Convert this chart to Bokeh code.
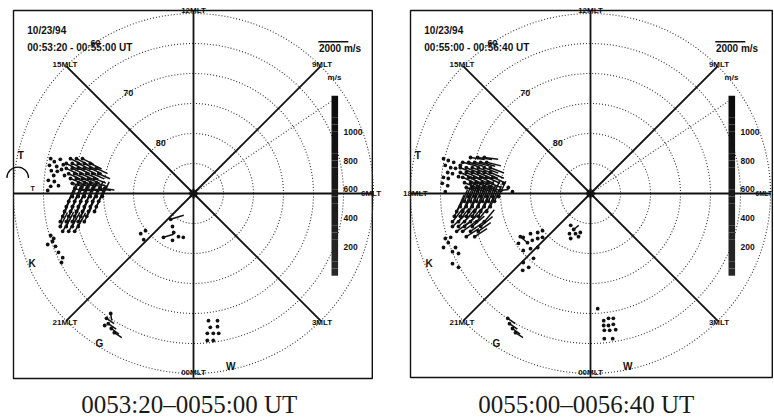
import numpy as np
from bokeh.plotting import figure
from bokeh.models import Range1d
from bokeh.core.properties import value
from bokeh.embed import file_html
from bokeh.resources import INLINE

# ---------------- data ----------------
DATE = "10/23/94"
INTERVALS = ["00:53:20 - 00:55:00 UT", "00:55:00 - 00:56:40 UT"]
CAPTIONS = ["0053:20\u20130055:00 UT", "0055:00\u20130056:40 UT"]
CIRCLE_LATS = [85, 80, 75, 70, 65, 60]
LAT_LABELS = [80, 70, 60]
LAT_LABEL_MLT = 14.2
MLT_HOURS = [0, 3, 6, 9, 12, 15, 18, 21]
MLT_NAMES = ["00MLT", "3MLT", "6MLT", "9MLT", "12MLT", "15MLT", "18MLT", "21MLT"]
GUIDE_MLT = 8.25
GUIDE_LAT = 62.4
CBAR_TICKS = [200, 400, 600, 800, 1000]
CBAR_MAX = 1250
REF_SPEED = 2000
STATION_NAMES = ["T", "K", "G", "W"]
STATION_X = [-28.8, -26.9, -15.7, 6.2]
STATION_Y = [6.3, -11.6, -25.0, -28.9]

# radar cells (grid x/y in degrees of colatitude from the pole, +x toward 06 MLT,
# +y toward 12 MLT), speed in m/s, direction in degrees from +x
L_X = [
    -23.8, -23.2, -24.0, -22.8, -23.7, -22.7, -23.3, -24.2, -23.2, -23.8, -24.3, -22.2, -21.7, -22.0, -21.5, -22.5,
    -20.5, -19.5, -18.5,
    -21.2, -20.2, -19.2, -18.2, -17.2,
    -21.2, -20.2, -19.2, -18.2, -17.2, -16.2,
    -20.8, -19.8, -18.8, -17.8, -16.8, -15.8,
    -20.5, -19.5, -18.5, -17.5, -16.5,
    -20.2, -19.2, -18.2, -17.2, -16.2,
    -19.8, -18.8, -17.8, -16.8, -15.5, -14.8,
    -20.2, -19.2, -18.2, -17.2, -16.2, -15.2,
    -20.8, -19.8, -18.8, -17.8, -16.8, -15.8,
    -21.2, -20.2, -19.2, -18.2, -17.2, -16.2,
    -21.5, -20.5, -19.5, -18.5, -17.5, -16.5,
    -21.8, -20.8, -19.8, -18.8, -17.8,
    -22.2, -21.2, -20.2, -19.2, -18.2,
    -22.2, -21.2, -20.2, -19.2,
    -21.8, -20.8, -19.8,
    -23.8, -23.3, -24.3, -23.0, -22.5, -21.8, -22.0, -23.5,
    -14.5, -14.2, -13.7, -13.2, -14.8, -13.8,
    2.5, 4.0, 2.8, 4.0, 2.3, 3.3, 4.2, 2.3, 3.3,
    -8.8, -8.0, -8.3, -3.5, -3.3, -2.5, -1.7, -3.5, -5.0, -3.8,
]
L_Y = [
    5.8, 5.3, 4.7, 4.5, 3.8, 3.7, 3.0, 2.2, 2.0, 1.2, 0.5, 5.7, 4.8, 4.0, 3.0, 1.3,
    5.8, 5.8, 5.8,
    5.0, 5.0, 5.0, 5.0, 5.0,
    4.2, 4.2, 4.2, 4.2, 4.2, 4.2,
    3.3, 3.3, 3.3, 3.3, 3.3, 3.3,
    2.5, 2.5, 2.5, 2.5, 2.5,
    1.7, 1.7, 1.7, 1.7, 1.7,
    0.8, 0.8, 0.8, 0.8, 0.8, 0.8,
    -0.5, -0.5, -0.5, -0.5, -0.5, -0.5,
    -1.3, -1.3, -1.3, -1.3, -1.3, -1.3,
    -2.2, -2.2, -2.2, -2.2, -2.2, -2.2,
    -3.0, -3.0, -3.0, -3.0, -3.0, -3.0,
    -3.8, -3.8, -3.8, -3.8, -3.8,
    -4.7, -4.7, -4.7, -4.7, -4.7,
    -5.5, -5.5, -5.5, -5.5,
    -6.3, -6.3, -6.3,
    -7.0, -7.5, -8.5, -8.8, -9.8, -10.7, -11.5, -8.0,
    -20.8, -21.7, -22.5, -23.2, -22.0, -20.0,
    -21.2, -21.2, -22.3, -22.2, -23.3, -23.3, -23.3, -24.5, -24.5,
    -6.7, -6.2, -7.7, -5.5, -6.5, -7.2, -7.3, -7.8, -7.3, -4.3,
]
L_SPD = [
    0, 0, 0, 0, 0, 0, 0, 0, 0, 0, 0, 0, 0, 0, 0, 0,
    850, 880, 840,
    860, 870, 850, 860, 840,
    870, 880, 860, 870, 850, 830,
    860, 870, 880, 860, 840, 820,
    840, 850, 860, 840, 820,
    820, 830, 840, 820, 800,
    780, 790, 800, 770, 700, 650,
    1150, 1160, 1170, 1150, 1120, 1080,
    1180, 1190, 1200, 1180, 1150, 1100,
    1200, 1210, 1200, 1190, 1160, 1120,
    1180, 1200, 1190, 1170, 1140, 1100,
    1150, 1170, 1160, 1140, 1100,
    1120, 1140, 1130, 1100, 1060,
    1050, 1070, 1060, 1030,
    950, 980, 960,
    0, 0, 0, 0, 0, 0, 0, 0,
    620, 640, 630, 600, 0, 470,
    0, 0, 0, 0, 0, 0, 0, 0, 0,
    0, 0, 0, 0, 0, 0, 0, 0, 700, 910,
]
L_DIR = [
    0, 0, 0, 0, 0, 0, 0, 0, 0, 0, 0, 0, 0, 0, 0, 0,
    -27, -28, -27,
    -27, -27, -26, -27, -26,
    -26, -26, -25, -26, -25, -25,
    -25, -25, -24, -25, -24, -24,
    -23, -23, -22, -23, -22,
    -18, -18, -17, -18, -17,
    -12, -12, -11, -12, -10, -8,
    66, 66, 67, 66, 66, 65,
    67, 67, 67, 67, 66, 66,
    67, 67, 68, 67, 67, 66,
    67, 67, 67, 67, 66, 66,
    66, 66, 66, 65, 65,
    65, 65, 64, 64, 63,
    63, 63, 62, 62,
    60, 60, 59,
    0, 0, 0, 0, 0, 0, 0, 0,
    -35, -35, -36, -34, 0, -82,
    0, 0, 0, 0, 0, 0, 0, 0, 0,
    0, 0, 0, 0, 0, 0, 0, 0, 17, 17,
]

R_X = [
    -24.5, -23.7, -22.8, -24.2, -23.3, -22.5, -23.8, -23.0, -24.5, -23.7, -24.7, -23.8, -24.2, -22.0, -21.7,
    -20.0, -18.8, -17.7,
    -21.3, -20.3, -19.3, -18.3, -17.3,
    -21.7, -20.7, -19.7, -18.7, -17.7, -16.7,
    -21.7, -20.7, -19.7, -18.7, -17.7, -16.7,
    -21.3, -20.3, -19.3, -18.3, -17.3, -16.3,
    -21.0, -20.0, -19.0, -18.0, -17.0,
    -20.7, -19.7, -18.7, -17.7, -16.7,
    -14.5, -13.7, -15.0, -13.0,
    -20.3, -19.3, -18.3, -17.3, -16.3, -15.3,
    -21.0, -20.0, -19.0, -18.0, -17.0, -16.0,
    -21.7, -20.7, -19.7, -18.7, -17.7, -16.7,
    -22.3, -21.3, -20.3, -19.3, -18.3, -17.3,
    -22.7, -21.7, -20.7, -19.7, -18.7,
    -23.0, -22.0, -21.0, -20.0, -19.0, -17.7,
    -23.0, -22.0, -21.0, -19.7, -18.3,
    -22.3, -21.3, -20.0, -18.7,
    -20.7, -19.3,
    -24.2, -23.3, -23.7, -24.5, -22.5, -23.0, -22.0, -23.0, -22.0,
    -11.2, -10.0, -8.8, -8.0, -10.5, -9.7, -8.8, -8.0, -11.2, -10.0, -8.8, -11.2, -10.3, -11.3, -9.5, -12.0, -11.7,
    -3.3, -2.8, -3.5, -2.5, -1.7, -3.3, -2.0,
    -13.8, -13.5, -13.0, -12.5,
    2.2, 3.0, 3.8, 2.2, 3.0, 3.8, 2.3, 3.2, 4.2, 2.3, 3.7, 1.2,
]
R_Y = [
    5.8, 5.5, 5.2, 4.7, 4.3, 4.2, 3.5, 3.3, 2.7, 2.5, 1.7, 1.3, 0.3, 2.8, 4.7,
    6.0, 6.0, 6.0,
    5.2, 5.2, 5.2, 5.2, 5.2,
    4.3, 4.3, 4.3, 4.3, 4.3, 4.3,
    3.5, 3.5, 3.5, 3.5, 3.5, 3.5,
    2.7, 2.7, 2.7, 2.7, 2.7, 2.7,
    1.8, 1.8, 1.8, 1.8, 1.8,
    1.0, 1.0, 1.0, 1.0, 1.0,
    1.7, 1.0, 0.5, 0.3,
    -0.5, -0.5, -0.5, -0.5, -0.5, -0.5,
    -1.3, -1.3, -1.3, -1.3, -1.3, -1.3,
    -2.2, -2.2, -2.2, -2.2, -2.2, -2.2,
    -3.0, -3.0, -3.0, -3.0, -3.0, -3.0,
    -3.8, -3.8, -3.8, -3.8, -3.8,
    -4.7, -4.7, -4.7, -4.7, -4.7, -4.7,
    -5.5, -5.5, -5.5, -5.5, -5.5,
    -6.3, -6.3, -6.3, -6.3,
    -7.2, -7.2,
    -7.5, -7.3, -8.2, -9.0, -9.0, -9.7, -10.0, -11.7, -12.3,
    -7.3, -6.7, -6.5, -6.2, -8.2, -7.8, -7.5, -7.3, -9.5, -9.2, -9.0, -11.5, -12.3, -12.8, -10.8, -8.3, -7.2,
    -5.3, -6.0, -6.7, -6.7, -6.5, -7.5, -7.2,
    -20.8, -21.7, -22.5, -23.2,
    -21.2, -20.8, -20.8, -22.0, -22.0, -21.8, -22.8, -22.8, -22.7, -24.2, -24.2, -19.2,
]
R_SPD = [
    0, 0, 0, 0, 0, 0, 0, 0, 0, 0, 0, 0, 0, 0, 0,
    950, 960, 930,
    1000, 1010, 990, 1000, 980,
    1020, 1030, 1020, 1010, 1000, 980,
    1030, 1040, 1030, 1020, 1000, 980,
    1000, 1010, 1000, 990, 970, 950,
    950, 960, 950, 930, 900,
    900, 910, 900, 880, 850,
    0, 0, 540, 0,
    1200, 1210, 1200, 1190, 1160, 1120,
    1230, 1240, 1230, 1210, 1180, 1140,
    1240, 1250, 1240, 1220, 1190, 1150,
    1220, 1230, 1220, 1200, 1170, 1130,
    1180, 1190, 1180, 1160, 1120,
    1120, 1130, 1120, 1100, 1080, 1040,
    1080, 1090, 1080, 1060, 1030,
    1050, 1060, 1040, 1010,
    1000, 980,
    0, 0, 0, 0, 0, 0, 0, 0, 0,
    0, 0, 0, 0, 0, 0, 0, 0, 0, 0, 0, 0, 0, 0, 0, 0, 520,
    0, 430, 0, 0, 0, 0, 0,
    620, 640, 630, 600,
    0, 0, 0, 0, 0, 0, 0, 0, 0, 0, 0, 0,
]
R_DIR = [
    0, 0, 0, 0, 0, 0, 0, 0, 0, 0, 0, 0, 0, 0, 0,
    -8, -8, -7,
    -15, -15, -14, -15, -14,
    -22, -22, -21, -22, -21, -21,
    -24, -24, -23, -24, -23, -23,
    -25, -25, -24, -25, -24, -24,
    -22, -22, -21, -22, -21,
    -18, -18, -17, -18, -17,
    0, 0, 7, 0,
    66, 66, 67, 66, 66, 65,
    67, 67, 67, 67, 66, 66,
    67, 67, 68, 67, 67, 66,
    66, 66, 66, 66, 65, 65,
    62, 62, 62, 61, 61,
    52, 52, 51, 51, 50, 50,
    42, 42, 41, 41, 40,
    36, 36, 35, 35,
    33, 33,
    0, 0, 0, 0, 0, 0, 0, 0, 0,
    0, 0, 0, 0, 0, 0, 0, 0, 0, 0, 0, 0, 0, 0, 0, 0, -40,
    0, 39, 0, 0, 0, 0, 0,
    -35, -35, -36, -34,
    0, 0, 0, 0, 0, 0, 0, 0, 0, 0, 0, 0,
]

for arrs in ((L_X, L_Y, L_SPD, L_DIR), (R_X, R_Y, R_SPD, R_DIR)):
    n = len(arrs[0])
    assert all(len(a) == n for a in arrs), [len(a) for a in arrs]

PANELS = [(L_X, L_Y, L_SPD, L_DIR), (R_X, R_Y, R_SPD, R_DIR)]

# ---------------- layout (degrees, 6 px per degree) ----------------
PX = 6.0
W, H = 774, 419
X0 = -193 / PX
Y1 = 193 / PX
OFFSETS = [0.0, 397 / PX]
FRAME_R = [29.8, 30.3]
FRAME_B = [-30.83, -30.67]
R_OUT = 30.0
REF_LEN = 5.0          # the 2000 m/s arrow is 5 degrees long
DEG_PER_MS = REF_LEN / REF_SPEED
CB_LEFT, CB_RIGHT = 23.0, 24.1
CB_BOTTOM, CB_HEIGHT = -13.7, 30.0

INK = "#111111"
SANS = value("Liberation Sans")
SERIF = value("Liberation Serif")

p = figure(width=W, height=H, output_backend="svg", toolbar_location=None,
           x_range=Range1d(X0, X0 + W / PX), y_range=Range1d(Y1 - H / PX, Y1),
           min_border=0, outline_line_color=None, tools="")
p.axis.visible = False
p.grid.visible = False
p.background_fill_color = "white"
p.border_fill_color = "white"


def mlt_angle(h):
    return np.deg2rad((np.asarray(h, dtype=float) - 6.0) * 15.0)


def text(xs, ys, txt, size, align="center", baseline="middle", font=SANS, style="bold", color=INK):
    p.text(x=list(xs), y=list(ys), text=list(txt), text_font=font, text_font_size=size,
           text_font_style=style, text_align=align, text_baseline=baseline, text_color=color)


for k, off in enumerate(OFFSETS):
    # frame
    p.quad(left=[off - 30.0], right=[off + FRAME_R[k]], bottom=[FRAME_B[k]], top=[30.5],
           fill_color=None, line_color=INK, line_width=1.4)

    # latitude circles
    radii = [90 - lat for lat in CIRCLE_LATS]
    p.circle(x=[off] * len(radii), y=[0] * len(radii), radius=radii, fill_color=None,
             line_color="#333333", line_dash="1 2", line_width=1.1)

    # dotted guide line
    ga = mlt_angle(GUIDE_MLT)
    gr = 90 - GUIDE_LAT
    p.line(x=[off, off + gr * np.cos(ga)], y=[0, gr * np.sin(ga)], line_color="#333333",
           line_dash="1 2", line_width=1.1)

    # MLT meridians
    ang = mlt_angle(MLT_HOURS)
    rend = np.array([30.7 if h == 0 else 30.5 if h == 12 else R_OUT for h in MLT_HOURS])
    p.segment(x0=[off] * len(ang), y0=[0] * len(ang), x1=off + rend * np.cos(ang),
              y1=rend * np.sin(ang), line_color=INK, line_width=1.8)

    # MLT labels (06 MLT of the right panel is handled below, it sits at the page edge)
    rl = np.array([29.8 if h == 0 else 30.5 if h == 12 else 29.6 if h == 6 else 29.2 if h == 18 else 30.3
                   for h in MLT_HOURS])
    keep = [i for i, h in enumerate(MLT_HOURS)
            if not (k == 0 and h == 18) and not (k == 1 and h == 6)]
    text([off + rl[i] * np.cos(ang[i]) for i in keep], [rl[i] * np.sin(ang[i]) for i in keep],
         [MLT_NAMES[i] for i in keep], "8px")
    if k == 1:
        i6 = MLT_HOURS.index(6)
        text([off + 30.25], [0.0], [MLT_NAMES[i6]], "6.5px", align="right")

    # latitude labels
    la = mlt_angle(LAT_LABEL_MLT)
    text([off + (90 - l) * np.cos(la) for l in LAT_LABELS], [(90 - l) * np.sin(la) for l in LAT_LABELS],
         [str(l) for l in LAT_LABELS], "9px")

    # header texts
    text([off - 27.7], [27.1], [DATE], "10px", align="left")
    text([off - 27.7], [24.3], [INTERVALS[k]], "10px", align="left")

    # reference vector
    p.segment(x0=[off + 20.8], y0=[25.3], x1=[off + 20.8 + REF_SPEED * DEG_PER_MS], y1=[25.3],
              line_color=INK, line_width=1.6)
    text([off + 20.9], [24.2], [f"{REF_SPEED} m/s"], "10px", align="left")

    # colour bar
    steps = np.linspace(0, CBAR_MAX, 26)
    shades = [f"#{int(40 - 30 * s / CBAR_MAX):02x}{int(40 - 30 * s / CBAR_MAX):02x}{int(40 - 30 * s / CBAR_MAX):02x}"
              for s in steps[:-1]]
    p.quad(left=[off + CB_LEFT] * 25, right=[off + CB_RIGHT] * 25,
           bottom=CB_BOTTOM + steps[:-1] * CB_HEIGHT / CBAR_MAX,
           top=CB_BOTTOM + steps[1:] * CB_HEIGHT / CBAR_MAX,
           fill_color=shades, line_color=None)
    text([off + 25.0] * len(CBAR_TICKS), [CB_BOTTOM + t * CB_HEIGHT / CBAR_MAX for t in CBAR_TICKS],
         [str(t) for t in CBAR_TICKS], "8.5px", align="left")
    text([off + 23.5], [19.3], ["m/s"], "8px")

    # stations
    text([off + x for x in STATION_X], STATION_Y, STATION_NAMES, "10px")

    # velocity vectors
    xs, ys, sp, dr = [np.asarray(a, dtype=float) for a in PANELS[k]]
    m = sp > 0
    th = np.deg2rad(dr[m])
    p.segment(x0=off + xs[m], y0=ys[m], x1=off + xs[m] + sp[m] * DEG_PER_MS * np.cos(th),
              y1=ys[m] + sp[m] * DEG_PER_MS * np.sin(th), line_color=INK, line_width=1.5)
    p.scatter(x=off + xs, y=ys, size=3.8, marker="circle", fill_color=INK, line_color=None)

    # pole marker
    p.scatter(x=[off], y=[0], size=10, marker="asterisk", line_color=INK, line_width=1.6)
    p.scatter(x=[off], y=[0], size=7, marker="circle", fill_color=None, line_color=INK, line_width=1.2)

    # caption
    text([off - 0.7], [-35.1], [CAPTIONS[k]], "25px", baseline="middle", font=SERIF,
         style="normal", color="#1a1a1a")

# the half-disc symbol at the left edge of the first panel
p.arc(x=[-29.3], y=[2.6], radius=1.8, start_angle=0, end_angle=np.pi, line_color=INK, line_width=1.3)
text([-26.8], [0.8], ["T"], "7px")

open("out.html", "w").write(file_html(p, INLINE))
